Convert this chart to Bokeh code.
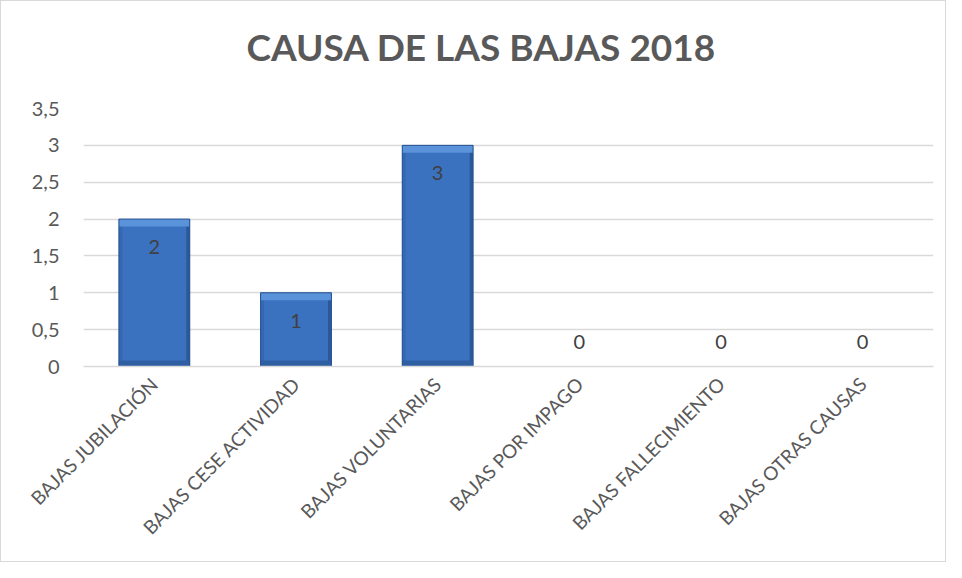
from bokeh.plotting import figure
from bokeh.models import FactorRange, Range1d, FixedTicker, ColumnDataSource, Title
from bokeh.core.properties import value
from bokeh.transform import dodge
from bokeh.embed import file_html
from bokeh.resources import INLINE
import math

title_text = "CAUSA DE LAS BAJAS 2018"
categories = ["BAJAS JUBILACIÓN", "BAJAS CESE ACTIVIDAD", "BAJAS VOLUNTARIAS",
              "BAJAS POR IMPAGO", "BAJAS FALLECIMIENTO", "BAJAS OTRAS CAUSAS"]
counts = [2, 1, 3, 0, 0, 0]
y_ticks = [0, 0.5, 1, 1.5, 2, 2.5, 3, 3.5]
y_tick_labels = ["0", "0,5", "1", "1,5", "2", "2,5", "3", "3,5"]

FONT = "Lato"
GRAY = "#595959"

p = figure(width=946, height=562, output_backend="svg", toolbar_location=None,
           x_range=FactorRange(*categories, range_padding=0),
           y_range=Range1d(0, 3.5))
p.styles = {"border": "1px solid #d9d9d9", "box-sizing": "border-box"}
p.min_border_left = 82
p.min_border_right = 14
p.min_border_top = 107
p.min_border_bottom = 197
p.outline_line_color = None
p.background_fill_color = "white"
p.border_fill_color = "white"
p.title = None

spacer = Title(text=" ", text_font_size="34px", standoff=0)
main_title = Title(text=title_text, align="left", offset=163, text_font=FONT,
                   text_font_style="bold", text_font_size="37px",
                   text_color=GRAY, standoff=0)
p.add_layout(spacer, "above")
p.add_layout(main_title, "above")

p.xgrid.grid_line_color = None
p.ygrid.grid_line_color = "#d9d9d9"
p.ygrid.grid_line_width = 1.5

BW = 0.5
src = ColumnDataSource(dict(
    cat=categories,
    val=counts,
    top_band=[max(v - 0.1, 0) for v in counts],
    bot_band=[min(v, 0.08) for v in counts],
    label=[str(v) for v in counts],
    yoff=[28 if v > 0 else -25 for v in counts],
))

# main bar body
p.vbar(x="cat", top="val", width=BW, source=src,
       fill_color="#3a72c0", line_color=None)
# side shading
p.vbar(x=dodge("cat", -BW / 2 + 0.012, range=p.x_range), top="val", width=0.024,
       source=src, fill_color="#3468b3", line_color=None)
p.vbar(x=dodge("cat", BW / 2 - 0.012, range=p.x_range), top="val", width=0.024,
       source=src, fill_color="#2b5898", line_color=None)
# bottom shading
p.vbar(x="cat", top="bot_band", width=BW, source=src,
       fill_color="#2f5fa3", line_color=None)
# top bevel
p.vbar(x="cat", top="val", bottom="top_band", width=BW, source=src,
       fill_color="#5a93da", line_color=None)
p.vbar(x="cat", top="val", width=BW, source=src,
       fill_color=None, line_color="#27528f", line_width=1)

p.text(x="cat", y="val", text="label", y_offset="yoff", source=src,
       text_align="center", text_baseline="middle",
       text_font=value(FONT), text_font_size="20px", text_color="#404040")

p.yaxis.ticker = FixedTicker(ticks=y_ticks)
p.yaxis.major_label_overrides = {t: l for t, l in zip(y_ticks, y_tick_labels)}
p.yaxis.axis_line_color = None
p.yaxis.major_tick_line_color = None
p.yaxis.major_tick_out = 0
p.yaxis.minor_tick_line_color = None
p.yaxis.major_label_standoff = 24
p.yaxis.major_label_text_font = FONT
p.yaxis.major_label_text_font_size = "20px"
p.yaxis.major_label_text_color = GRAY

p.xaxis.axis_line_color = "#d9d9d9"
p.xaxis.axis_line_width = 1.5
p.xaxis.major_tick_line_color = None
p.xaxis.major_tick_out = 0
p.xaxis.minor_tick_line_color = None
p.xaxis.major_label_orientation = math.pi / 4
p.xaxis.major_label_standoff = 14
p.xaxis.major_label_text_font = FONT
p.xaxis.major_label_text_font_size = "19px"
p.xaxis.major_label_text_color = GRAY

open("out.html", "w").write(file_html(p, INLINE))
